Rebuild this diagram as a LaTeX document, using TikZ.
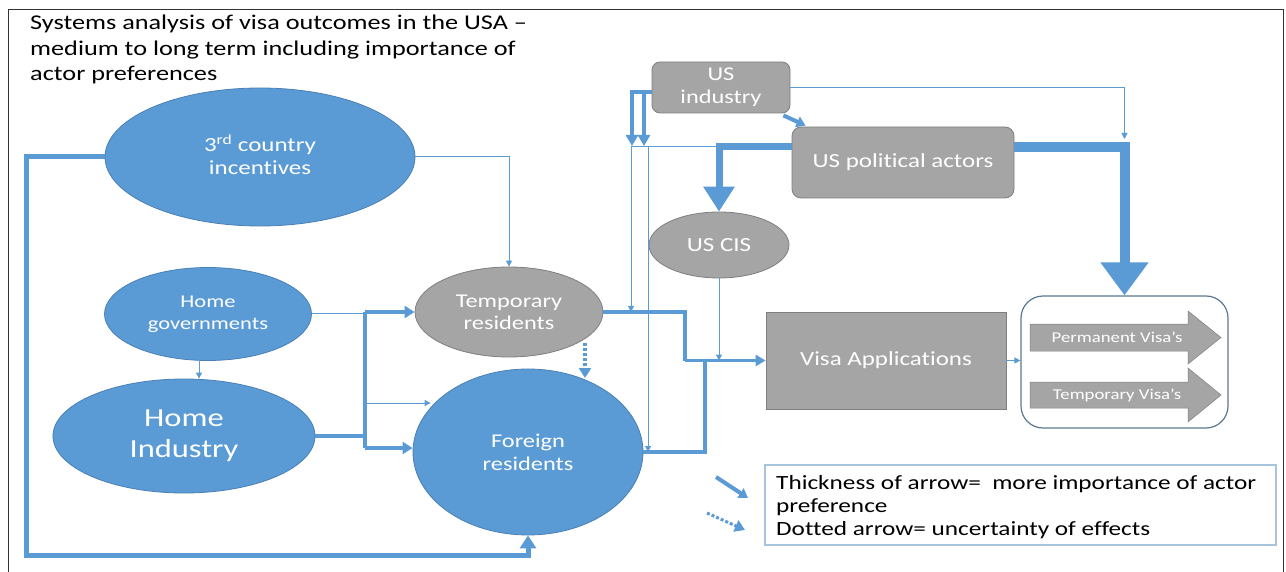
\documentclass[tikz,border=0pt]{standalone}
\usepackage{fontspec}
\setmainfont{Carlito}[FakeStretch=1.25, Ligatures={TeX,NoCommon}]
\usetikzlibrary{shapes.geometric,arrows.meta,calc}
\definecolor{cblue}{HTML}{5B9BD5}
\definecolor{cblueedge}{HTML}{4A80B5}
\definecolor{cgrey}{HTML}{A5A5A5}
\definecolor{cgreyedge}{HTML}{7F7F7F}
\definecolor{cline}{HTML}{5B9BD5}
\definecolor{clegend}{HTML}{A8C4DC}
\definecolor{ccont}{HTML}{5A7890}
\newcommand{\fsz}[2]{\fontsize{#1}{#2}\selectfont}
\tikzset{
  blueell/.style={ellipse, fill=cblue, draw=cblueedge, line width=0.8pt, text=white, align=center, inner sep=0pt},
  greyell/.style={ellipse, fill=cgrey, draw=cgreyedge, line width=0.8pt, text=white, align=center, inner sep=0pt},
  greybox/.style={rectangle, rounded corners=9pt, fill=cgrey, draw=cgreyedge, line width=0.8pt, text=white, align=center, inner sep=0pt},
  vtext/.style={text=white, font=\fsz{15}{17}, inner sep=0pt},
  thinline/.style={draw=cline, line width=1pt},
  thinarr/.style={thinline, -{Triangle[length=6pt,width=6pt]}},
  medline/.style={draw=cline, line width=3.5pt},
  medarr/.style={medline, -{Triangle[length=10pt,width=11pt]}},
  hiline/.style={draw=cline, line width=4pt},
  hiarr/.style={hiline, -{Triangle[length=10pt,width=12pt]}},
  fbarr/.style={draw=cline, line width=5pt, -{Triangle[length=13pt,width=16pt]}},
  dblline/.style={draw=cline, line width=4pt},
  dblarr/.style={dblline, -{Triangle[length=11pt,width=12pt]}},
  bigL/.style={draw=cline, line width=7pt, -{Triangle[length=25pt,width=30pt]}},
  bigR/.style={draw=cline, line width=10pt, -{Triangle[length=33pt,width=46pt]}},
  smallarr/.style={draw=cline, line width=4pt, -{Triangle[length=9pt,width=11pt]}},
  dotarr/.style={draw=cline, line width=3.5pt, dash pattern=on 3pt off 2pt, -{Triangle[length=10pt,width=12pt]}},
}
\begin{document}
\begin{tikzpicture}[x=1pt,y=-1pt]
\useasboundingbox (0,0) rectangle (1286,572);
\fill[white] (0,0) rectangle (1286,572);
\draw[black!80, line width=1pt] (8,572) -- (8,10) -- (1283,10) -- (1283,572);

% title
\node[anchor=north west, align=left, inner sep=0pt, font=\fsz{21}{25.5}] (title) at (30,15) {Systems analysis of visa outcomes in the USA –\\medium to long term including importance of\\actor preferences};

% nodes
\node[blueell, minimum width=310pt, minimum height=138pt, font=\fsz{20}{23}] (tci) at (260,157) {3\smash{\textsuperscript{rd}} country\\incentives};
\node[blueell, minimum width=207pt, minimum height=93pt, font=\fsz{18}{22}] (hg) at (208,314) {Home\\governments};
\node[blueell, minimum width=262pt, minimum height=114pt, font=\fsz{26}{31}] (hi) at (184,436) {Home\\Industry};
\node[greyell, minimum width=188pt, minimum height=90pt, font=\fsz{19.5}{22}] (tr) at (509,312) {Temporary\\residents};
\node[blueell, minimum width=230pt, minimum height=166pt, font=\fsz{19.5}{23}] (fr) at (528,452) {Foreign\\residents};
\node[greybox, rounded corners=8pt, minimum width=138pt, minimum height=51pt, font=\fsz{19.5}{23}] (usi) at (721,87.5) {US\\industry};
\node[greybox, minimum width=222pt, minimum height=71pt, font=\fsz{20}{24}] (upa) at (903,162.5) {US political actors};
\node[greyell, minimum width=140pt, minimum height=66pt, font=\fsz{20}{24}] (cis) at (719,245) {US CIS};
\node[rectangle, fill=cgrey, draw=cgreyedge, line width=0.8pt, text=white, inner sep=0pt, minimum width=240pt, minimum height=97pt, font=\fsz{20}{24}] (va) at (886,360.5) {Visa Applications};
\node[rectangle, rounded corners=22pt, draw=ccont, line width=1.2pt, minimum width=207pt, minimum height=132pt] (cont) at (1124.5,362) {};

% visa arrows
\filldraw[fill=cgrey, draw=cgreyedge, line width=0.5pt] (1030,324) -- (1188,324) -- (1188,311) -- (1221,337.5) -- (1188,364) -- (1188,351) -- (1030,351) -- cycle;
\node[vtext] (pv) at (1117,337.5) {Permanent Visa’s};
\filldraw[fill=cgrey, draw=cgreyedge, line width=0.5pt] (1030,382) -- (1188,382) -- (1188,368) -- (1221,395) -- (1188,422) -- (1188,408) -- (1030,408) -- cycle;
\node[vtext] (tv) at (1117,395) {Temporary Visa’s};

% legend
\node[rectangle, draw=clegend, line width=1.3pt, minimum width=511pt, minimum height=80pt, inner sep=0pt] (leg) at (1020.5,505) {};
\node[anchor=north west, align=left, inner sep=0pt, font=\fsz{20.2}{23}] (legt) at (776,475) {Thickness of arrow=\ \ more importance of actor\\preference\\Dotted arrow= uncertainty of effects};
\coordinate (l1a) at (716,477);
\coordinate (l1b) at (748,498);
\coordinate (l2a) at (707,513);
\coordinate (l2b) at (745,530);
\draw[smallarr] (l1a) -- (l1b);
\draw[dotarr, line width=3pt] (l2a) -- (l2b);

% connectors left side
\coordinate (fbL) at (26,555);
\draw[fbarr] (tci.west) -| (fbL) -| (fr.south);
\draw[thinarr] (tci.east) -| (tr.north);
\coordinate (jA) at (365,312);
\coordinate (jB) at (365,448);
\coordinate (jC) at (365,403);
\draw[thinline] (hg.east) -- (hg.east -| jA);
\draw[hiline] (hi.east) -- (hi.east -| jA);
\draw[hiline] (jA) -- (jB);
\draw[hiarr] (jA) -- (jA -| tr.west);
\draw[hiarr] (jB) -- (jB -| fr.west);
\draw[thinarr] (jC) -- ([xshift=18pt]jC -| fr.west);
\draw[thinarr] ([xshift=-9pt]hg.south) -- ([xshift=15pt]hi.north);
\draw[dotarr] ($(tr.center)+(76,31)$) -- ($(fr.center)+(57,-74)$);

% outputs to visa applications
\coordinate (kA) at (685,360.5);
\coordinate (kB) at (705,360.5);
\draw[medline] (tr.east) -| (kA);
\draw[medarr] (kA) -- (kA -| va.west);
\draw[medline] (fr.east) -| (kB);
\draw[thinarr] (cis.south) -- (cis.south |- kA);
\draw[thinarr] (va.east) -- (va.east -| cont.west);

% US side
\coordinate (pT) at (0,147);
\coordinate (tA) at (631,147);
\coordinate (tB) at (648,147);
\draw[thinarr] (upa.west |- pT) -- (tA) -- (tA |- tr.east);
\draw[thinarr] (tB) -- (tB |- fr.east);
\coordinate (dA) at (632,92);
\coordinate (dB) at (644,92);
\coordinate (dY) at (0,146);
\draw[dblline] (usi.west |- dA) -- ([xshift=-2pt]dA);
\draw[dblarr] ([yshift=2pt]dA) -- (dA |- dY);
\draw[dblarr] (dB) -- (dB |- dY);
\draw[bigL] (upa.west |- pT) -| (cis.north);
\draw[bigR] (upa.east |- pT) -| (cont.north);
\coordinate (rT) at (1124.5,139);
\draw[thinarr] (usi.east) -| (rT);
\draw[smallarr] ([xshift=-7pt,yshift=-2pt]usi.south east) -- ([xshift=14pt,yshift=1pt]upa.north west);
\end{tikzpicture}
\end{document}
